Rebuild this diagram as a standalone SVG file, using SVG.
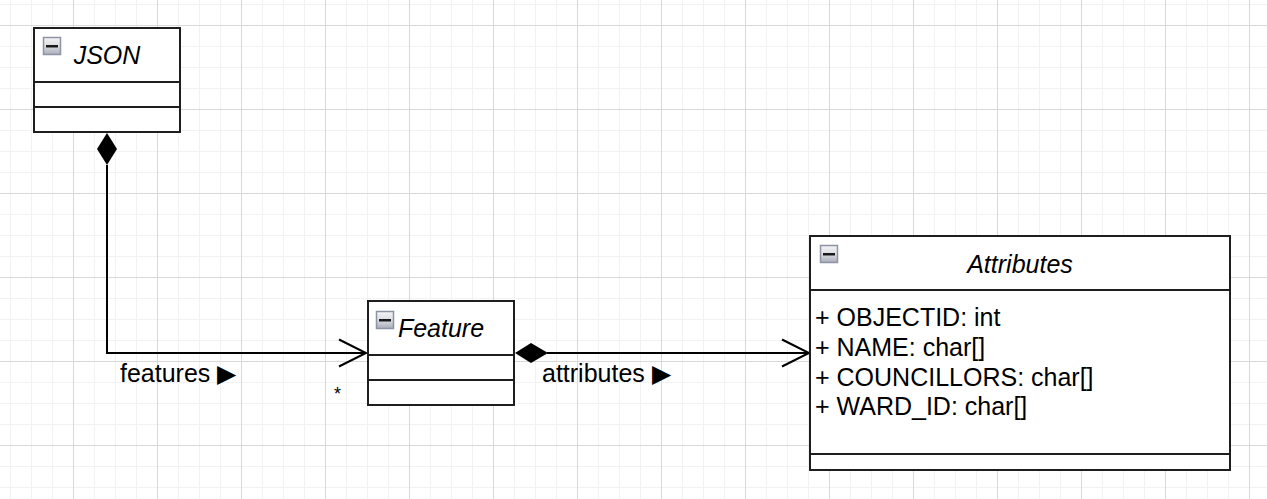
<svg xmlns="http://www.w3.org/2000/svg" width="1267" height="499" viewBox="0 0 1267 499">
<style>
.box{fill:#ffffff;stroke:#1e1e1e;stroke-width:2}
.div{stroke:#1e1e1e;stroke-width:2}
.title{font-family:"Liberation Sans",Arial,sans-serif;font-style:italic;font-size:25px;fill:#000;text-anchor:middle}
.attr{font-family:"Liberation Sans",Arial,sans-serif;font-size:25px;fill:#000}
.lbl{font-family:"Liberation Sans",Arial,sans-serif;font-size:25px;fill:#000}
.edge{fill:none;stroke:#000;stroke-width:2}
.icon-b{fill:url(#ig);stroke:#8d94a5;stroke-width:1.5}
.icon-m{fill:#1a1a1a}
</style>
<defs>
<pattern id="grid" patternUnits="userSpaceOnUse" x="10" y="4" width="84" height="84">
<rect x="0" y="0" width="1" height="84" fill="#f2f2f2"/>
<rect x="21" y="0" width="1" height="84" fill="#f2f2f2"/>
<rect x="42" y="0" width="1" height="84" fill="#f2f2f2"/>
<rect x="0" y="0" width="84" height="1" fill="#f2f2f2"/>
<rect x="0" y="42" width="84" height="1" fill="#f2f2f2"/>
<rect x="0" y="63" width="84" height="1" fill="#f2f2f2"/>
<rect x="63" y="0" width="1" height="84" fill="#d9d9d9"/>
<rect x="0" y="21" width="84" height="1" fill="#d9d9d9"/>
</pattern>
<linearGradient id="ig" x1="0" y1="0" x2="0" y2="1">
<stop offset="0" stop-color="#f4f4f6"/>
<stop offset="0.5" stop-color="#dcdde2"/>
<stop offset="1" stop-color="#a9adb8"/>
</linearGradient>
</defs>
<rect x="0" y="0" width="1267" height="499" fill="#ffffff"/>
<rect x="0" y="0" width="1267" height="499" fill="url(#grid)"/>

<g id="connectors">
<g id="edge-json-feature">
<polyline class="edge" points="107,165 107,353 366,353"/>
<polygon points="107,133 117,149 107,165 97,149" fill="#000"/>
<polyline class="edge" points="339,339.5 366,353 339,366.5"/>
<text class="lbl" x="120" y="382">features ▶</text>
<text class="lbl" x="334" y="400" style="font-size:18px">*</text>
</g>
<g id="edge-feature-attributes">
<line class="edge" x1="547" y1="353" x2="809" y2="353"/>
<polygon points="515,353 531,343 548,353 531,363" fill="#000"/>
<polyline class="edge" points="782,339.5 809,353 782,366.5"/>
<text class="lbl" x="542" y="382">attributes ▶</text>
</g>
</g>

<g id="node-json">
<rect class="box" x="34" y="28" width="146" height="104"/>
<line class="div" x1="34" y1="82" x2="180" y2="82"/>
<line class="div" x1="34" y1="107" x2="180" y2="107"/>
<rect class="icon-b" x="43.5" y="37.5" width="17" height="17"/>
<rect class="icon-m" x="46" y="45" width="12" height="2.5"/>
<text class="title" x="107" y="64">JSON</text>
</g>

<g id="node-feature">
<rect class="box" x="368" y="301" width="146" height="104"/>
<line class="div" x1="368" y1="355" x2="514" y2="355"/>
<line class="div" x1="368" y1="380" x2="514" y2="380"/>
<rect class="icon-b" x="376.5" y="311.5" width="17" height="17"/>
<rect class="icon-m" x="379" y="319" width="12" height="2.5"/>
<text class="title" x="441" y="337">Feature</text>
</g>

<g id="node-attributes">
<rect class="box" x="810" y="236" width="420" height="234"/>
<line class="div" x1="810" y1="290" x2="1230" y2="290"/>
<line class="div" x1="810" y1="454" x2="1230" y2="454"/>
<rect class="icon-b" x="820.5" y="245.5" width="17" height="17"/>
<rect class="icon-m" x="823" y="253" width="12" height="2.5"/>
<text class="title" x="1020" y="273">Attributes</text>
<text class="attr" x="815" y="326">+ OBJECTID: int</text>
<text class="attr" x="815" y="356">+ NAME: char[]</text>
<text class="attr" x="815" y="386">+ COUNCILLORS: char[]</text>
<text class="attr" x="815" y="415">+ WARD_ID: char[]</text>
</g>
</svg>
